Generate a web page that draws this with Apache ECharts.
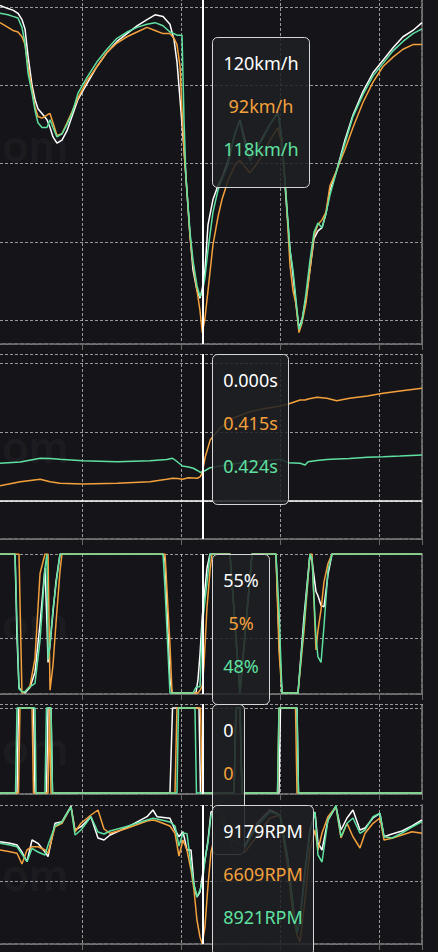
<!DOCTYPE html>
<html><head><meta charset="utf-8">
<script src="https://cdn.jsdelivr.net/npm/echarts@6/dist/echarts.min.js"></script>
<style>html,body{margin:0;padding:0;background:#151519;}#c{width:438px;height:952px;}</style>
</head><body><div id="c"></div>
<script>
// crosshair position (distance units)
const CROSS = 221;

// ---- speed (km/h)
const speedDist = [16.4,24.5,29.5,34.6,38.6,41.7,44.7,48.8,51.8,54.8,58.9,63.9,67,70,74,79.1,84.2,89.2,95.3,104.4,114.5,124.6,134.7,144.8,155,165.1,173.2,181.3,188.3,192.4,195.4,198.5,200.5,202.5,204.5,208.6,211.6,215.6,218.7,221,223.7,226.8,231.8,236.9,240.9,247,254.1,259.1,264.2,269.3,275.3,281.4,289.5,297.6,301.6,305.7,309.7,312.7,315.8,318.8,321.8,325.9,329.9,334,338,342.1,346.1,350.2,357.2,365.3,373.4,383.5,393.7,403.8,413.9,424,434.1,443.2];
const speedWhite = [301,299,298,296,292,286,269,250,241,235,232,228,223,217,213,215,221,230,241,251,262,271,278,283,288,292,295,294,289,279,265,241,225,209,191,154,132,119,114,120,132,161,177,186,191,202,219,228,215,202,209,216,225,233,215,177,145,129,110,95,100,114,132,152,157,159,168,183,196,215,231,246,258,266,274,281,285,290];
const speedOrange = [290,287,285,284,281,276,262,247,236,230,229,231,232,226,218,219,226,233,242,253,262,271,277,281,284,287,285,283,283,280,276,262,234,209,191,153,136,119,106,92,101,119,148,166,177,189,199,202,198,194,199,205,215,223,212,180,135,119,110,92,98,111,132,154,161,164,169,186,196,209,223,239,252,262,268,273,276,276];
const speedGreen = [296,295,294,293,287,277,258,245,234,226,223,223,228,223,217,219,225,232,245,255,265,273,280,284,287,289,290,288,284,283,282,282,282,228,191,156,138,122,115,118,127,145,169,183,190,199,220,227,212,202,209,215,225,232,215,180,145,132,113,94,99,117,138,156,162,159,168,180,196,213,230,244,256,264,272,278,283,286];

// ---- time delta (s)
const deltaDist = [16.4,37,57,67,77,100,135,168,185,191,196,201,207,212,216,219,221,224,229,239,252,269,286,300,308,320,325,328,337,347,357,370,388,404,421,443.2];
const deltaWhite = [0,0,0,0,0,0,0,0,0,0,0,0,0,0,0,0,0,0,0,0,0,0,0,0,0,0,0,0,0,0,0,0,0,0,0,0];
const deltaOrange = [0.222,0.280,0.314,0.280,0.257,0.246,0.257,0.280,0.314,0.329,0.326,0.314,0.336,0.333,0.329,0.352,0.415,0.638,0.884,1.058,1.199,1.294,1.343,1.377,1.406,1.464,1.464,1.478,1.503,1.488,1.454,1.488,1.522,1.561,1.594,1.633];
const deltaGreen = [0.546,0.565,0.619,0.616,0.604,0.584,0.570,0.584,0.601,0.619,0.565,0.507,0.493,0.474,0.442,0.416,0.424,0.442,0.483,0.507,0.536,0.570,0.587,0.604,0.555,0.546,0.522,0.570,0.587,0.601,0.609,0.616,0.633,0.642,0.652,0.667];

// ---- throttle (%)
const throttleDist = [16.4,31.6,33.6,35.6,38.6,41.7,46.7,51.8,56.9,61.9,63.9,65,67,70,73,77.1,79.1,181.3,183.3,188.3,190.4,211.6,214.6,216.7,218.7,221,222.7,225.8,228.8,230.8,249,259.1,271.3,295.5,298.6,301.6,317.8,323.9,329.9,332,336,338,341.1,344.1,348.1,352.2,443.2];
const throttleWhite = [100,100,40,4,1,0,4,15,50,90,50,22,35,58,80,100,100,100,95,10,0,0,0,10,28,55,68,90,100,100,100,0,100,100,40,0,0,55,100,95,73,70,63,62,85,100,100];
const throttleOrange = [100,100,100,100,0,1,5,25,86,100,100,100,2,20,50,88,100,100,100,35,0,0,0,0,2,5,20,62,88,100,100,0,100,100,30,0,0,45,100,100,31,45,60,80,93,100,100];
const throttleGreen = [100,100,50,3,1,1,4.5,7,38,90,100,24,35,60,78,100,100,100,75,0,0,0,4,4.5,4.5,48,60,80,100,100,100,0,100,100,60,0,0,50,100,97,40,26,22,48,88,100,100];

// ---- brake (on/off)
const brakeDist = [16.4,32.1,33.6,35.1,36.6,48.8,50.3,51.8,52.8,61.9,63.4,65,66.5,68,69.5,188.3,190.9,193.4,195.4,196.9,213.6,215.1,217.7,219.2,221,253.1,255.1,259.1,261.2,297.1,298.6,300.1,315.3,316.8,318.3,443.2];
const brakeWhite = [0,0,0,1,1,1,1,0,0,0,0,1,1,1,0,0,1,1,1,1,1,1,1,0,0,0,1,1,0,0,0,1,1,1,0,0];
const brakeOrange = [0,0,0,0,1,1,0,0,0,0,0,0,1,0,0,0,0,0,1,1,1,1,1,1,0,0,1,1,0,0,1,1,1,0,0,0];
const brakeGreen = [0,0,1,1,1,1,1,1,0,0,1,1,1,1,0,0,0,0,0,1,1,0,0,0,0,0,1,1,0,0,1,1,1,1,0,0];

// ---- engine speed (RPM)
const rpmDist = [16.4,26.5,33.6,38.6,43.7,48.8,54.8,61.9,65,72,79.1,88.2,92.3,98.3,108.4,115.5,121.6,127.7,142.8,165.1,171.1,175.2,188.3,193.4,197.4,201.5,205.5,209.6,212.6,215.6,218.7,221,223.7,226.8,229.8,238.9,251,264.2,277.3,289.5,299.6,307.7,312.7,316.8,319.8,324.9,329.9,335,338,342.1,348.1,356.2,361.3,367.4,373.4,380.5,385.6,393.7,400.7,404.8,412.9,423,433.1,443.2];
const rpmWhite = [10493,10433,10368,10102,9733,10558,10433,10102,9923,11193,11253,11850,10938,11063,11443,10634,10558,10748,11003,11443,11698,11443,11383,10938,10683,10873,10178,10178,8848,8392,8582,9179,9798,10558,11622,11774,10558,10368,11242,11698,11508,9798,8088,7024,7518,9418,10938,11622,10444,10178,11318,11823,10938,11394,11698,10938,11014,11394,11573,10683,10786,10900,11090,11318];
const rpmOrange = [10178,10113,10053,9646,10178,10303,10303,10178,10053,11063,11193,11812,10873,11193,11508,11698,10976,10813,10976,11280,11318,11280,11090,10813,9950,10558,10178,9418,8658,7518,6872,6609,7263,8848,10102,11508,10254,10102,10748,11394,11508,9418,7708,6948,6682,8278,10178,10938,10178,10824,11443,11823,10634,11193,10683,10254,10813,11193,11394,10558,10623,10748,10873,10813];
const rpmGreen = [10433,10368,10303,10026,9733,10243,10102,9988,10368,11090,11242,11812,10748,10938,11443,10862,10786,10900,11052,11318,11383,11356,11242,11090,10330,10824,10800,9600,8848,8403,8658,8921,9798,10482,11508,11774,10444,10292,11128,11622,11508,9722,8088,7024,7518,9228,10862,11622,9988,9722,11318,11860,10683,11193,11394,10813,10938,11443,11573,10683,10634,10824,11052,11253];

// ---- styling / layout
const COLORS = ['#ffffff', '#f4a03c', '#5fe0a0'];
const BG = '#151519';
const GRID_TOP = [-52, 354, 554, 704, 805];
const GRID_H = [396, 185, 140, 90, 139];
const BOX_TOP = [36.7, 354.3, 554.3, 704, 805];
const FONT = '18px "Noto Sans"';
const X_MIN = -24.06, X_MAX = 443.23;
const Y_AX = [
  {min: 84.7, max: 337.7, step: 50},
  {min: -0.551, max: 2.13, step: 1},
  {min: -0.7, max: 100, step: null},
  {min: -0.012, max: 1.047, step: 1},
  {min: 6606, max: 11888, step: 3000}
];

const panels = [
  {dist: speedDist, vals: [speedWhite, speedOrange, speedGreen], fmt: v => Math.round(v) + 'km/h', tip: [0,1,2]},
  {dist: deltaDist, vals: [deltaWhite, deltaOrange, deltaGreen], fmt: v => v.toFixed(3) + 's', tip: [0,1,2]},
  {dist: throttleDist, vals: [throttleWhite, throttleOrange, throttleGreen], fmt: v => Math.round(v) + '%', tip: [0,1,2]},
  {dist: brakeDist, vals: [brakeWhite, brakeOrange, brakeGreen], fmt: v => String(v), tip: [0,1]},
  {dist: rpmDist, vals: [rpmWhite, rpmOrange, rpmGreen], fmt: v => Math.round(v) + 'RPM', tip: [0,1,2]}
];

const splitStyle = {color: 'rgba(205,205,205,0.72)', width: 1, type: [3, 2]};
const axisStyle = {color: '#6c6c6c', width: 2, type: [4, 2]};

const grids = GRID_TOP.map((t, i) => ({left: -40, right: 16, top: t, height: GRID_H[i], containLabel: false, outerBoundsMode: 'none'}));
const xAxes = GRID_TOP.map((t, i) => ({
  type: 'value', gridIndex: i, min: X_MIN, max: X_MAX, minInterval: 100, maxInterval: 100,
  axisLabel: {show: false},
  axisTick: {show: true, length: 6, lineStyle: {color: '#666', width: 1}},
  axisLine: {show: true, onZero: false, lineStyle: axisStyle},
  splitLine: {show: true, lineStyle: splitStyle},
  axisPointer: {show: false}
}));
const yAxes = Y_AX.map((a, i) => ({
  type: 'value', gridIndex: i, position: 'right', min: a.min, max: a.max,
  minInterval: a.step || undefined, maxInterval: a.step || undefined,
  axisLabel: {show: false}, axisTick: {show: false},
  axisLine: {show: true, onZero: false, lineStyle: axisStyle},
  splitLine: {show: a.step !== null, lineStyle: splitStyle}
}));
// helper axis carrying the throttle panel's single mid grid line
yAxes.push({
  type: 'value', gridIndex: 2, position: 'left', min: -2, max: 3, minInterval: 5, maxInterval: 5,
  axisLabel: {show: false}, axisTick: {show: false}, axisLine: {show: false},
  splitLine: {show: true, lineStyle: splitStyle}
});

const series = [];
panels.forEach((p, i) => {
  p.vals.forEach((vals, k) => {
    const s = {
      type: 'line', xAxisIndex: i, yAxisIndex: i,
      data: p.dist.map((d, j) => [d, vals[j]]),
      showSymbol: false, symbol: 'none', silent: true, animation: false,
      lineStyle: {color: COLORS[k], width: 1.5}, itemStyle: {color: COLORS[k]},
      z: 2 + k
    };
    if (k === p.vals.length - 1) {
      s.markLine = {
        silent: true, animation: false, symbol: ['none', 'none'],
        label: {show: false},
        lineStyle: {color: '#ffffff', width: 2, type: 'solid', opacity: 1},
        emphasis: {disabled: true},
        data: [{xAxis: CROSS}]
      };
    }
    series.push(s);
  });
});

const chart = echarts.init(document.getElementById('c'), null, {renderer: 'svg', width: 438, height: 952});
chart.setOption({
  backgroundColor: BG,
  animation: false,
  grid: grids, xAxis: xAxes, yAxis: yAxes, series: series
});

// tooltip-like value boxes at the crosshair
const crossPx = chart.convertToPixel({xAxisIndex: 0}, CROSS);
const ctx = document.createElement('canvas').getContext('2d');
ctx.font = FONT;
const graphics = [];
GRID_TOP.forEach((t, i) => {
  graphics.push({
    type: 'text', silent: true, z: 0, x: 2, y: t + GRID_H[i] / 2,
    style: {text: 'om', fill: 'rgba(255,255,255,0.045)', font: '600 44px Inter', verticalAlign: 'middle', textVerticalAlign: 'middle'}
  });
});
panels.forEach((p, i) => {
  const idx = p.dist.indexOf(CROSS);
  const rows = p.tip.map(k => ({t: p.fmt(p.vals[k][idx]), c: COLORS[k]}));
  const w = Math.round(Math.max.apply(null, rows.map(r => ctx.measureText(r.t).width)) + 21.6);
  const bx = Math.round(crossPx + 10) + 0.5;
  const by = Math.round(BOX_TOP[i]) + 0.5;
  graphics.push({
    type: 'rect', silent: true, z: 100 + 2 * i,
    shape: {x: bx, y: by, width: w, height: 150, r: 5},
    style: {fill: 'rgba(29,32,35,0.86)', stroke: '#d6d6d6', lineWidth: 1}
  });
  rows.forEach((r, j) => {
    graphics.push({
      type: 'text', silent: true, z: 101 + 2 * i,
      x: bx + w / 2, y: by + 25 + 43 * j,
      style: {text: r.t, fill: r.c, font: FONT, align: 'center', verticalAlign: 'middle', textAlign: 'center', textVerticalAlign: 'middle'}
    });
  });
});
chart.setOption({graphic: graphics});
</script>
</body></html>
